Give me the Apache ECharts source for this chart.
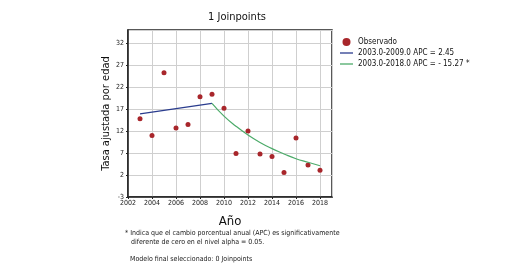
<!DOCTYPE html>
<html>
<head>
<meta charset="utf-8">
<script src="https://cdn.jsdelivr.net/npm/echarts@6/dist/echarts.min.js"></script>
<style>
  html, body { margin: 0; padding: 0; background: #fff; }
  #echarts { width: 512px; height: 270px; }
</style>
</head>
<body>
<div id="echarts"></div>
<script>
// datos
var years = [2003, 2004, 2005, 2006, 2007, 2008, 2009, 2010, 2011, 2012, 2013, 2014, 2015, 2016, 2017, 2018];
var observado = [14.8, 11.0, 25.3, 12.7, 13.5, 19.8, 20.4, 17.2, 6.9, 12.0, 6.8, 6.2, 2.6, 10.4, 4.3, 3.1];

var seg1Years = [2003, 2009];
var seg1Vals = [15.9, 18.3];

var seg2Years = [2009, 2010, 2011, 2012, 2013, 2014, 2015, 2016, 2017, 2018];
var seg2Vals = [18.3, 15.4, 13.1, 11.1, 9.4, 8.0, 6.8, 5.7, 4.9, 4.1];

var nombre1 = '2003.0-2009.0 APC = 2.45';
var nombre2 = '2003.0-2018.0 APC = - 15.27 *';

function pares(xs, ys) {
    return xs.map(function (x, i) { return [x, ys[i]]; });
}

var fuente = '"DejaVu Sans Condensed", "Liberation Sans", sans-serif';
var iconoLinea = 'path://M0,0 L20,0 L20,2 L0,2 Z';

var myChart = echarts.init(document.getElementById('echarts'));
var option = {
    animation: false,
    textStyle: { fontFamily: fuente },
    title: {
        text: '1 Joinpoints',
        left: 232,
        top: 7,
        textAlign: 'center',
        textStyle: { fontSize: 11, fontWeight: 'normal', color: '#111', fontFamily: fuente }
    },
    legend: {
        orient: 'vertical',
        left: 335,
        top: 33,
        itemWidth: 13,
        itemHeight: 8,
        itemGap: 3,
        textStyle: { fontSize: 8, color: '#111', fontFamily: fuente },
        data: [
            { name: 'Observado', icon: 'circle', itemStyle: { color: '#a8262b' } },
            { name: nombre1, icon: iconoLinea },
            { name: nombre2, icon: iconoLinea }
        ]
    },
    grid: {
        left: 128,
        top: 30,
        right: 180,
        bottom: 73,
        show: true,
        borderColor: '#222',
        borderWidth: 1.5
    },
    xAxis: {
        type: 'value',
        min: 2002,
        max: 2019,
        interval: 2,
        name: 'Año',
        nameLocation: 'middle',
        nameGap: 18,
        nameTextStyle: { fontSize: 13, color: '#111', fontFamily: fuente },
        axisLine: { onZero: false, lineStyle: { color: '#222', width: 1.5 } },
        axisTick: { show: true, length: 2, lineStyle: { color: '#222' } },
        axisLabel: {
            fontSize: 7, color: '#222', margin: 3, showMaxLabel: false,
            formatter: function (v) { return v % 2 === 0 ? String(v) : ''; }
        },
        splitLine: { show: true, lineStyle: { color: '#cfcfcf', width: 1 } }
    },
    yAxis: {
        type: 'value',
        min: -3,
        max: 35,
        interval: 5,
        name: 'Tasa ajustada por edad',
        nameLocation: 'middle',
        nameGap: 14,
        nameTextStyle: { fontSize: 11, color: '#111', fontFamily: fuente },
        axisLine: { show: true, onZero: false, lineStyle: { color: '#222', width: 1.5 } },
        axisTick: { show: true, length: 2, lineStyle: { color: '#222' } },
        axisLabel: { fontSize: 7, color: '#222', margin: 4, showMaxLabel: false },
        splitLine: { show: true, lineStyle: { color: '#cfcfcf', width: 1 } }
    },
    series: [
        {
            name: 'Observado',
            type: 'scatter',
            symbolSize: 5,
            itemStyle: { color: '#a8262b', opacity: 1 },
            data: pares(years, observado)
        },
        {
            name: nombre1,
            type: 'line',
            symbol: 'none',
            lineStyle: { color: '#2a3c8e', width: 1.2 },
            itemStyle: { color: '#2a3c8e' },
            data: pares(seg1Years, seg1Vals)
        },
        {
            name: nombre2,
            type: 'line',
            symbol: 'none',
            smooth: true,
            lineStyle: { color: '#4dab6a', width: 1.2 },
            itemStyle: { color: '#4dab6a' },
            data: pares(seg2Years, seg2Vals)
        }
    ],
    graphic: [
        {
            type: 'text',
            left: 125,
            top: 229,
            style: {
                text: '* Indica que el cambio porcentual anual (APC) es significativamente\n   diferente de cero en el nivel alpha = 0.05.',
                font: '7px ' + fuente,
                fill: '#222',
                lineHeight: 9
            }
        },
        {
            type: 'text',
            left: 130,
            top: 256,
            style: {
                text: 'Modelo final seleccionado: 0 Joinpoints',
                font: '7px ' + fuente,
                fill: '#222'
            }
        }
    ]
};
myChart.setOption(option);
</script>
</body>
</html>
